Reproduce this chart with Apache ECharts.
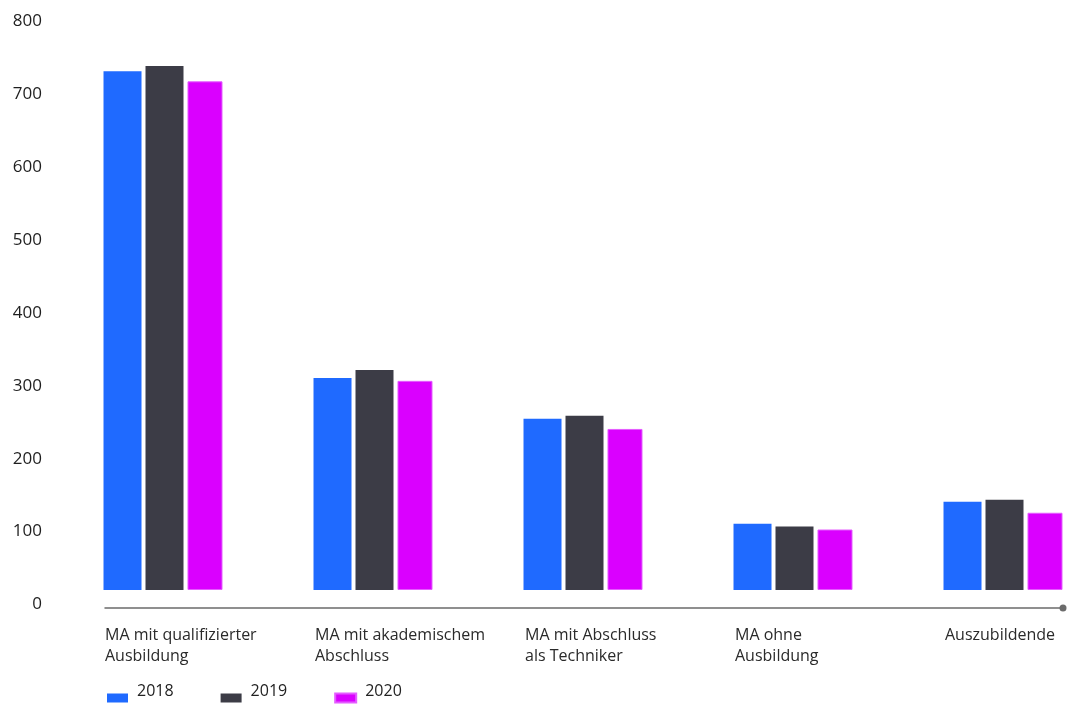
<!DOCTYPE html>
<html>
<head>
<meta charset="utf-8">
<script src="https://cdn.jsdelivr.net/npm/echarts@6/dist/echarts.min.js"></script>
<style>
  html, body { margin: 0; padding: 0; background: #ffffff; }
  #chart { width: 1068px; height: 706px; }
</style>
</head>
<body>
<div id="chart"></div>
<script>
// Employee groups (x categories)
const categories = [
  'MA mit qualifizierter\nAusbildung',
  'MA mit akademischem\nAbschluss',
  'MA mit Abschluss\nals Techniker',
  'MA ohne\nAusbildung',
  'Auszubildende'
];
const years = ['2018', '2019', '2020'];

// Head counts per year
const values2018 = [712, 291, 235, 91, 121];
const values2019 = [719, 302, 239, 87, 124];
const values2020 = [698, 287, 221, 83, 106];

// Value axis range
const yMin = 0;
const yMax = 800;
const yStep = 100;

const FONT = '"Open Sans", "DejaVu Sans", sans-serif';
const colors = ['#1f6aff', '#3c3c46', '#da00ff'];

const chart = echarts.init(document.getElementById('chart'));

// wrap every line of a category name in a rich token so it starts at the group's left edge
function leftLabel(v) {
  return v.split('\n').map(function (line) { return '{l|' + line + '}'; }).join('\n');
}

chart.setOption({
  animation: false,
  backgroundColor: '#ffffff',
  color: colors,
  textStyle: { fontFamily: FONT },
  grid: [
    { left: 58, width: 1050, top: 7, bottom: 116, containLabel: false, outerBoundsMode: 'none' },
    { left: 105, right: 5, top: 7, bottom: 98, containLabel: false, outerBoundsMode: 'none' }
  ],
  legend: {
    data: years,
    left: 102,
    top: 678,
    icon: 'rect',
    itemWidth: 21,
    itemHeight: 9,
    itemGap: 47,
    selectedMode: false,
    formatter: '{t|{name}}',
    textStyle: {
      fontFamily: FONT,
      fontSize: 16,
      color: '#222222',
      rich: {
        t: {
          fontFamily: FONT,
          fontSize: 16,
          color: '#222222',
          padding: [0, 0, 14, 4]
        }
      }
    }
  },
  xAxis: [
    {
      type: 'category',
      gridIndex: 0,
      data: categories,
      boundaryGap: true,
      axisLine: { show: false },
      axisTick: { show: false },
      axisLabel: {
        interval: 0,
        margin: 35,
        align: 'center',
        formatter: leftLabel,
        rich: {
          l: {
            width: 116,
            align: 'left',
            fontFamily: FONT,
            fontSize: 16,
            lineHeight: 21,
            color: '#2a2a2a'
          }
        }
      }
    },
    {
      // baseline of the chart with a dot at its end
      type: 'value',
      gridIndex: 1,
      min: 0,
      max: 1,
      axisLine: {
        show: true,
        symbol: ['none', 'circle'],
        symbolSize: [7, 7],
        lineStyle: { color: '#6b6b6b', width: 1.5 }
      },
      axisTick: { show: false },
      axisLabel: { show: false },
      splitLine: { show: false }
    }
  ],
  yAxis: [
    {
      type: 'value',
      gridIndex: 0,
      min: yMin,
      max: yMax,
      interval: yStep,
      axisLine: { show: false },
      axisTick: { show: false },
      splitLine: { show: false },
      axisLabel: {
        margin: 16,
        verticalAlign: 'top',
        padding: [6, 0, 0, 0],
        fontFamily: FONT,
        fontSize: 17,
        color: '#1e1e1e'
      }
    },
    {
      type: 'value',
      gridIndex: 1,
      min: 0,
      max: 1,
      show: false
    }
  ],
  series: [
    {
      name: years[0], type: 'bar', xAxisIndex: 0, yAxisIndex: 0,
      data: values2018, barWidth: 38, barGap: '10.5%',
      itemStyle: { color: colors[0] }
    },
    {
      name: years[1], type: 'bar', xAxisIndex: 0, yAxisIndex: 0,
      data: values2019, barWidth: 38, barGap: '10.5%',
      itemStyle: { color: colors[1] }
    },
    {
      name: years[2], type: 'bar', xAxisIndex: 0, yAxisIndex: 0,
      data: values2020, barWidth: 35, barGap: '10.5%',
      itemStyle: { color: colors[2], borderColor: '#e45cff', borderWidth: 1 }
    }
  ]
});
</script>
</body>
</html>
